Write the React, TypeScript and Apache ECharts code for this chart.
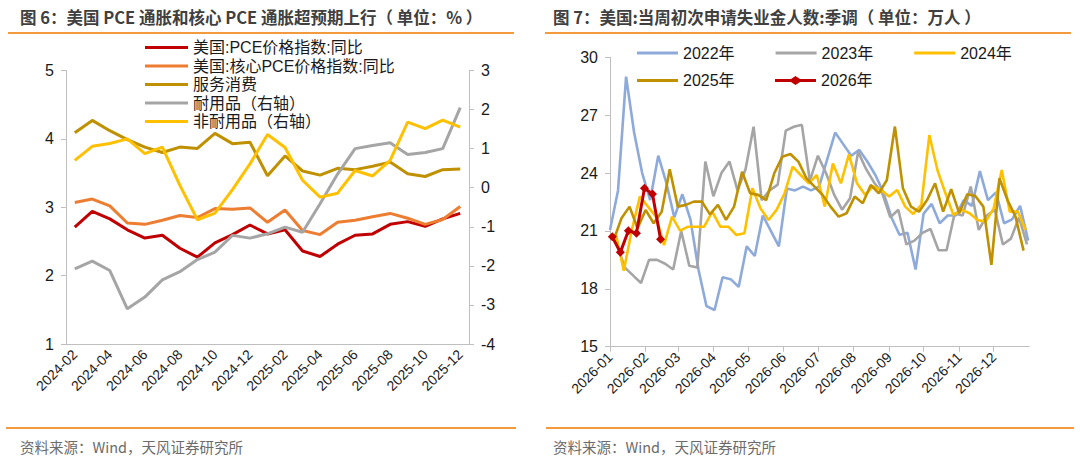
import React, { useEffect, useRef } from "react";
import * as echarts from "echarts";

// ---------- Figure 6 data ----------
const months = [
  "2024-02", "2024-03", "2024-04", "2024-05", "2024-06", "2024-07", "2024-08", "2024-09",
  "2024-10", "2024-11", "2024-12", "2025-01", "2025-02", "2025-03", "2025-04", "2025-05",
  "2025-06", "2025-07", "2025-08", "2025-09", "2025-10", "2025-11", "2025-12",
];
const pce = [2.71, 2.94, 2.83, 2.67, 2.55, 2.59, 2.4, 2.27, 2.48, 2.6, 2.74, 2.61, 2.67, 2.36, 2.28, 2.46, 2.59, 2.61, 2.75, 2.79, 2.72, 2.83, 2.91];
const corePce = [3.07, 3.12, 3.02, 2.77, 2.75, 2.81, 2.88, 2.85, 2.98, 2.97, 2.99, 2.78, 2.96, 2.66, 2.6, 2.78, 2.81, 2.86, 2.91, 2.84, 2.75, 2.82, 3.01];
const services = [4.09, 4.27, 4.12, 3.99, 3.88, 3.8, 3.88, 3.86, 4.08, 3.93, 3.95, 3.46, 3.75, 3.53, 3.47, 3.57, 3.55, 3.6, 3.66, 3.49, 3.45, 3.55, 3.56];
const durables = [-2.08, -1.88, -2.12, -3.1, -2.8, -2.36, -2.15, -1.84, -1.65, -1.22, -1.29, -1.18, -1.01, -1.14, -0.41, 0.35, 1.0, 1.08, 1.15, 0.85, 0.9, 1.0, 2.05];
const nondurables = [0.7, 1.06, 1.13, 1.25, 0.87, 1.04, 0.06, -0.82, -0.65, -0.05, 0.61, 1.36, 1.03, 0.19, -0.24, -0.14, 0.44, 0.3, 0.7, 1.68, 1.51, 1.73, 1.55];
const leftNames = ["美国:PCE价格指数:同比", "美国:核心PCE价格指数:同比", "服务消费", "耐用品（右轴）", "非耐用品（右轴）"];

// ---------- Figure 7 data (weekly, 万人) ----------
const monthLabels = ["2026-01", "2026-02", "2026-03", "2026-04", "2026-05", "2026-06", "2026-07", "2026-08", "2026-09", "2026-10", "2026-11", "2026-12"];
const claims2022 = [21.05, 23.1, 29.0, 26.1, 24.0, 22.6, 24.9, 23.5, 21.7, 22.9, 21.6, 19.0, 17.1, 16.9, 18.6, 18.5, 18.1, 20.2, 19.7, 21.8, 21.0, 20.2, 23.2, 23.1, 23.3, 23.1, 23.3, 24.7, 26.1, 25.5, 24.9, 25.2, 24.6, 23.9, 23.0, 21.7, 20.8, 20.9, 19.0, 21.9, 22.4, 21.4, 21.8, 21.8, 22.6, 22.3, 24.1, 22.6, 23.0, 21.4, 21.6, 22.3, 20.5];
const claims2023 = [20.3, 19.1, 18.7, 18.3, 19.5, 19.5, 19.3, 19.0, 21.0, 19.2, 19.1, 24.6, 22.8, 24.0, 24.6, 23.1, 24.2, 26.4, 22.6, 23.1, 23.4, 26.2, 26.4, 26.5, 23.6, 24.9, 24.0, 22.9, 22.1, 22.7, 25.1, 24.2, 23.5, 22.95, 21.7, 22.1, 20.3, 20.5, 20.9, 21.1, 20.0, 20.0, 21.9, 21.8, 23.3, 21.05, 21.8, 22.1, 20.3, 20.6, 21.7, 20.3];
const claims2024 = [20.88, 18.94, 21.05, 22.78, 22.26, 21.74, 20.27, 21.74, 21.02, 21.22, 21.22, 21.22, 22.0, 21.22, 21.22, 20.79, 20.88, 23.21, 22.17, 21.57, 22.09, 22.95, 24.33, 23.9, 23.47, 23.9, 22.26, 24.5, 23.47, 24.97, 23.47, 22.87, 23.3, 23.12, 22.78, 23.12, 22.26, 21.88, 22.35, 25.97, 24.16, 22.95, 21.83, 22.09, 21.92, 21.57, 21.48, 22.17, 24.16, 22.0, 22.0, 21.05];
const claims2025 = [20.5, 21.66, 22.26, 21.14, 22.09, 21.4, 22.0, 24.2, 22.26, 22.35, 22.52, 22.52, 21.86, 22.35, 21.57, 22.26, 24.07, 22.95, 22.87, 22.6, 23.99, 24.85, 24.99, 24.59, 23.73, 23.3, 22.87, 22.26, 21.74, 21.92, 22.78, 22.43, 23.38, 22.95, 23.64, 26.41, 23.21, 22.26, 22.0, 22.6, 23.47, 22.0, 23.16, 21.92, 22.9, 22.81, 22.26, 19.24, 23.73, 22.6, 21.74, 19.98];
const claims2026 = [20.7, 19.89, 21.01, 20.88, 23.21, 22.92, 20.57];
const yearNames = ["2022年", "2023年", "2024年", "2025年", "2026年"];
// first week-ending day (day of January) of each year, placed on the 2026 calendar
const firstDays = [1, 7, 6, 4, 3];

const FONT = '"Liberation Sans", Arial, "Noto Sans CJK SC", sans-serif';
const CJK = '"Noto Sans CJK SC", "Liberation Sans", sans-serif';
const AXIS = "#bfbfbf";
const ORANGE = "#f39a3d";
const LINE_DIAMOND = "path://M0,3L16,3L20.5,0L25,3L41,3L41,6L25,6L20.5,9L16,6L0,6Z";

function weekly(values: number[], firstDay: number) {
  return values.map((v, i) => [new Date(2026, 0, firstDay + 7 * i).getTime(), v]);
}

export default function App() {
  const ref = useRef<HTMLDivElement>(null);
  useEffect(() => {
    document.body.style.margin = "0";
    const chart = echarts.init(ref.current!, null, { renderer: "svg" });
    const yearColors = ["#8eaadb", "#a5a5a5", "#ffc000", "#bf9000", "#c00000"];
    const yearData = [claims2022, claims2023, claims2024, claims2025, claims2026];
    const legendText = { fontSize: 16, color: "#1a1a1a", fontFamily: FONT };
    const option: any = {
      animation: false,
      textStyle: { fontFamily: FONT },
      grid: [
        { left: 66, width: 403, top: 70.5, height: 273.5 },
        { left: 610, width: 419.3, top: 57.3, height: 289.4 },
      ],
      legend: [
        {
          orient: "vertical", left: 140, top: 34.5, itemWidth: 43, itemHeight: 3, itemGap: 2.5,
          textStyle: { ...legendText, lineHeight: 16 },
          data: leftNames.map((n) => ({ name: n, icon: "rect" })),
        },
        {
          orient: "horizontal", left: 632, top: 40, itemWidth: 41, itemHeight: 3, itemGap: 41,
          textStyle: legendText,
          data: yearNames.slice(0, 3).map((n) => ({ name: n, icon: "rect" })),
        },
        {
          orient: "horizontal", left: 632, top: 67.5, itemWidth: 41, itemHeight: 3, itemGap: 41,
          textStyle: legendText,
          data: [{ name: yearNames[3], icon: "rect" }],
        },
        {
          orient: "horizontal", left: 770, top: 67.5, itemWidth: 41, itemHeight: 9, itemGap: 41,
          textStyle: legendText,
          data: [{ name: yearNames[4], icon: LINE_DIAMOND }],
        },
      ],
      xAxis: [
        {
          type: "category", gridIndex: 0, data: months, boundaryGap: true,
          axisLine: { onZero: false, lineStyle: { color: AXIS, width: 1 } },
          axisTick: { interval: 1, length: 5, lineStyle: { color: AXIS } },
          axisLabel: { interval: 1, rotate: 45, fontSize: 14, color: "#1a1a1a", margin: 8 },
          splitLine: { show: false },
        },
        {
          type: "time", gridIndex: 1,
          min: new Date(2026, 0, 1).getTime(), max: new Date(2027, 0, 1).getTime(),
          splitNumber: 12, minInterval: 28 * 86400000, maxInterval: 31 * 86400000,
          axisLine: { onZero: false, lineStyle: { color: AXIS, width: 1 } },
          axisTick: { show: true, length: 5, lineStyle: { color: AXIS } },
          axisLabel: {
            rotate: 45, fontSize: 14, color: "#1a1a1a", margin: 8, showMaxLabel: false,
            formatter: (val: number) => {
              const d = new Date(val);
              return d.getFullYear() === 2026 ? monthLabels[d.getMonth()] : "";
            },
          },
          splitLine: { show: false },
        },
      ],
      yAxis: [
        {
          type: "value", gridIndex: 0, min: 1, max: 5, interval: 1,
          axisLine: { show: true, onZero: false, lineStyle: { color: AXIS } },
          axisTick: { show: true, length: 5, lineStyle: { color: AXIS } },
          axisLabel: { fontSize: 16, color: "#1a1a1a", margin: 12 },
          splitLine: { show: false },
        },
        {
          type: "value", gridIndex: 0, position: "right", min: -4, max: 3, interval: 1,
          axisLine: { show: true, onZero: false, lineStyle: { color: AXIS } },
          axisTick: { show: true, length: 5, lineStyle: { color: AXIS } },
          axisLabel: { fontSize: 16, color: "#1a1a1a", margin: 12 },
          splitLine: { show: false },
        },
        {
          type: "value", gridIndex: 1, min: 15, max: 30, interval: 3,
          axisLine: { show: true, onZero: false, lineStyle: { color: AXIS } },
          axisTick: { show: true, length: 5, lineStyle: { color: AXIS } },
          axisLabel: { fontSize: 16, color: "#1a1a1a", margin: 12 },
          splitLine: { show: false },
        },
      ],
      series: [
        { name: leftNames[0], data: pce, color: "#c00000", yAxisIndex: 0 },
        { name: leftNames[1], data: corePce, color: "#ed7d31", yAxisIndex: 0 },
        { name: leftNames[2], data: services, color: "#bf9000", yAxisIndex: 0 },
        { name: leftNames[3], data: durables, color: "#a5a5a5", yAxisIndex: 1 },
        { name: leftNames[4], data: nondurables, color: "#ffc000", yAxisIndex: 1 },
      ].map((s) => ({
        ...s, type: "line", xAxisIndex: 0, symbol: "none",
        lineStyle: { width: 3, color: s.color }, itemStyle: { color: s.color },
      })).concat(
        yearData.map((vals, i) => ({
          name: yearNames[i], type: "line", xAxisIndex: 1, yAxisIndex: 2,
          data: weekly(vals, firstDays[i]),
          symbol: i === 4 ? "diamond" : "none", symbolSize: 9, showSymbol: i === 4,
          color: yearColors[i],
          lineStyle: { width: i === 4 ? 3 : 2.6, color: yearColors[i] },
          itemStyle: { color: yearColors[i] },
          z: 2 + i,
        })) as any
      ),
      graphic: [
        { type: "text", x: 20, y: 17, style: { text: "图 6：美国 PCE 通胀和核心 PCE 通胀超预期上行（ 单位：% ）", font: `bold 16.5px ${CJK}`, fill: "#404040", verticalAlign: "middle" } },
        { type: "text", x: 553, y: 17, style: { text: "图 7：美国:当周初次申请失业金人数:季调（ 单位：万人 ）", font: `bold 16.5px ${CJK}`, fill: "#404040", verticalAlign: "middle" } },
        { type: "line", shape: { x1: 8, y1: 33, x2: 514, y2: 33 }, style: { stroke: ORANGE, lineWidth: 2 } },
        { type: "line", shape: { x1: 545, y1: 33, x2: 1071, y2: 33 }, style: { stroke: ORANGE, lineWidth: 2 } },
        { type: "line", shape: { x1: 6, y1: 428, x2: 516, y2: 428 }, style: { stroke: ORANGE, lineWidth: 2 } },
        { type: "line", shape: { x1: 546, y1: 428, x2: 1074, y2: 428 }, style: { stroke: ORANGE, lineWidth: 2 } },
        { type: "text", x: 20, y: 446, style: { text: "资料来源：Wind，天风证券研究所", font: `14.5px ${CJK}`, fill: "#6b6b6b", verticalAlign: "middle" } },
        { type: "text", x: 553, y: 446, style: { text: "资料来源：Wind，天风证券研究所", font: `14.5px ${CJK}`, fill: "#6b6b6b", verticalAlign: "middle" } },
      ],
    };
    chart.setOption(option);
    return () => chart.dispose();
  }, []);
  return <div ref={ref} style={{ width: 1080, height: 465 }} />;
}
